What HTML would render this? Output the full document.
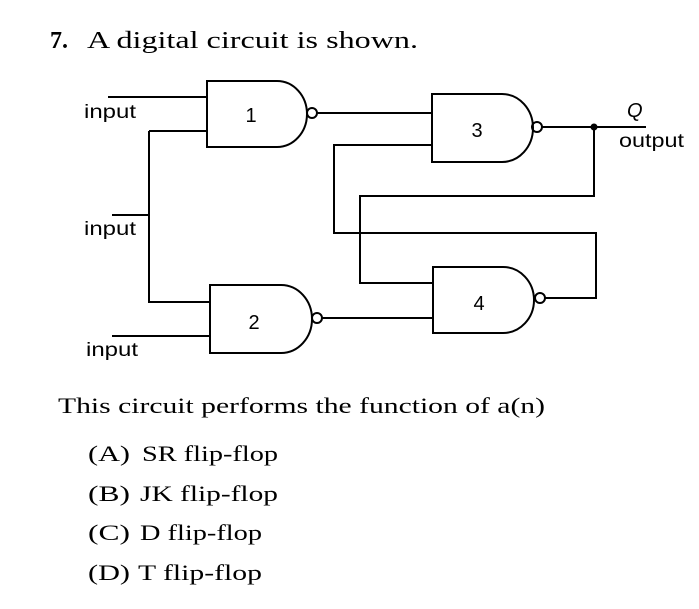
<!DOCTYPE html>
<html><head><style>html,body{margin:0;padding:0;background:#fff}svg{display:block}</style></head>
<body>
<svg width="699" height="609" viewBox="0 0 699 609" xmlns="http://www.w3.org/2000/svg">
<g font-family="Liberation Serif, serif" fill="#000">
<text x="50" y="48" font-size="24" font-weight="bold">7.</text>
<text x="87" y="48" font-size="24" textLength="331" lengthAdjust="spacingAndGlyphs">A digital circuit is shown.</text>
<text x="58" y="413" font-size="22" textLength="487" lengthAdjust="spacingAndGlyphs">This circuit performs the function of a(n)</text>
<g font-size="22">
<text x="88" y="461" textLength="42" lengthAdjust="spacingAndGlyphs">(A)</text>
<text x="142" y="461" textLength="136" lengthAdjust="spacingAndGlyphs">SR flip-flop</text>
<text x="88" y="501" textLength="42" lengthAdjust="spacingAndGlyphs">(B)</text>
<text x="140" y="501" textLength="138" lengthAdjust="spacingAndGlyphs">JK flip-flop</text>
<text x="88" y="540" textLength="42" lengthAdjust="spacingAndGlyphs">(C)</text>
<text x="140" y="540" textLength="122" lengthAdjust="spacingAndGlyphs">D flip-flop</text>
<text x="88" y="580" textLength="42" lengthAdjust="spacingAndGlyphs">(D)</text>
<text x="138" y="580" textLength="124" lengthAdjust="spacingAndGlyphs">T flip-flop</text>
</g>
</g>
<g fill="none" stroke="#000" stroke-width="2">
<path d="M207,81 H277 A30,33 0 0 1 277,147 H207 Z"/>
<circle cx="312" cy="113" r="5"/>
<path d="M210,285 H281 A31,34 0 0 1 281,353 H210 Z"/>
<circle cx="317" cy="318" r="5"/>
<path d="M432,94 H502 A31,34 0 0 1 502,162 H432 Z"/>
<circle cx="537" cy="127" r="5"/>
<path d="M433,267 H503 A31,33 0 0 1 503,333 H433 Z"/>
<circle cx="540" cy="298" r="5"/>
<path d="M108,97 H207"/>
<path d="M149,131 H207 M149,131 V302 H210"/>
<path d="M112,215 H149"/>
<path d="M112,336 H210"/>
<path d="M317,113 H432"/>
<path d="M322,318 H433"/>
<path d="M542,127 H646"/>
<path d="M432,145 H334 V233 H596 V298 H545"/>
<path d="M594,127 V196 H360 V283 H433"/>
</g>
<circle cx="594" cy="127" r="3.5" fill="#000"/>
<g font-family="Liberation Sans, sans-serif" fill="#000" font-size="19">
<text x="84" y="118" textLength="52" lengthAdjust="spacingAndGlyphs">input</text>
<text x="84" y="235" textLength="52" lengthAdjust="spacingAndGlyphs">input</text>
<text x="86" y="356" textLength="52" lengthAdjust="spacingAndGlyphs">input</text>
<text x="619" y="147" textLength="65" lengthAdjust="spacingAndGlyphs">output</text>
<text x="627" y="117" font-style="italic" font-size="20">Q</text>
<g font-size="20" text-anchor="middle">
<text x="251" y="122">1</text>
<text x="254" y="329">2</text>
<text x="477" y="137">3</text>
<text x="479" y="310">4</text>
</g>
</g>
</svg>
</body></html>
